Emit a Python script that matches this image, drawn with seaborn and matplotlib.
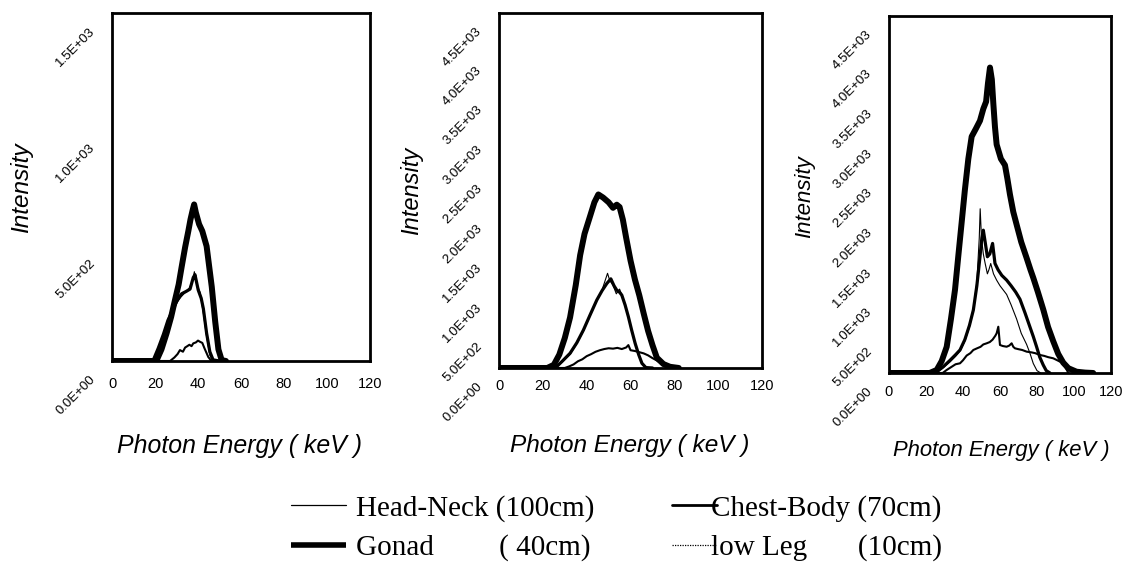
import matplotlib
matplotlib.use('Agg')
import matplotlib.pyplot as plt
from matplotlib.lines import Line2D
from matplotlib.ticker import FuncFormatter
from matplotlib.transforms import ScaledTranslation
import seaborn as sns

# ---------- panel 1 (low kV spectra) ----------
p1_head_e = [0, 18, 20, 23, 26, 29, 32, 34, 36, 37.5, 38.3, 39.5, 41, 42.5, 44, 45.5, 47, 50]
p1_head_i = [0, 0, 15, 90, 170, 235, 275, 295, 315, 345, 385, 330, 295, 205, 105, 25, 0, 0]
p1_chest_e = [0, 18.5, 19.2, 21.5, 23.9, 26, 28.5, 30.5, 32.4, 34.5, 36.3, 37.8, 38.6, 40.1, 41.5, 42.5, 44, 45.5, 47, 50]
p1_chest_i = [0, 0, 4, 55, 115, 175, 225, 265, 290, 300, 310, 360, 372, 306, 270, 225, 120, 40, 5, 0]
p1_gonad_e = [0, 20, 20.8, 23, 25.4, 27.5, 29.3, 31, 32.4, 34, 35.5, 36.5, 37.5, 38.2, 39, 40.5, 42, 44, 46.4, 48, 49.5, 51, 53]
p1_gonad_i = [0, 0, 4, 50, 120, 190, 263, 330, 406, 490, 560, 610, 650, 675, 640, 590, 560, 495, 320, 170, 50, 4, 0]
p1_leg_e = [0, 27, 29, 30.5, 31.6, 33, 34, 34.7, 36, 37, 37.8, 39, 40, 40.9, 42, 43, 44.8, 46, 48]
p1_leg_i = [0, 0, 15, 30, 47, 40, 58, 62, 70, 64, 76, 80, 88, 83, 78, 55, 17, 3, 0]

# ---------- panel 2 ----------
p2_head_e = [0, 24, 26.5, 29, 32.5, 35.5, 38.5, 41.5, 44.5, 47, 49.5, 50.5, 52, 53.5, 55, 56.5, 58, 59.5, 61, 62.5, 64, 65.5, 67, 70]
p2_head_i = [0, 0, 15, 80, 175, 310, 470, 660, 850, 990, 1200, 1110, 1050, 940, 1000, 880, 740, 600, 430, 280, 150, 50, 0, 0]
p2_chest_e = [0, 24, 26.3, 29, 32.4, 35.5, 38.5, 41.5, 44.6, 47, 49.2, 51, 52.5, 53.7, 55, 56, 57.5, 59, 60.5, 62.1, 63.7, 65.2, 67, 70]
p2_chest_i = [0, 0, 17, 90, 186, 320, 481, 670, 861, 980, 1072, 1130, 1040, 987, 960, 924, 800, 650, 480, 312, 170, 59, 5, 0]
p2_gonad_e = [0, 22, 25, 27.5, 30, 32.4, 35, 37, 39, 41.6, 43.5, 45.3, 47.5, 50, 52, 53.7, 55, 56.5, 58, 60, 62, 64, 66, 68, 70, 72, 75, 78, 82]
p2_gonad_i = [0, 0, 40, 170, 380, 640, 1050, 1430, 1700, 1930, 2100, 2200, 2160, 2100, 2030, 2070, 2040, 1880, 1650, 1360, 1120, 920, 690, 470, 290, 130, 50, 15, 0]
p2_leg_e = [0, 30, 32, 34, 36, 38, 40, 42, 44, 46, 48, 50, 52, 54, 56, 58, 59, 60, 62, 64, 66, 68, 70, 72, 75, 78, 81]
p2_leg_i = [0, 0, 20, 45, 85, 110, 150, 175, 205, 225, 240, 250, 245, 255, 240, 260, 290, 225, 215, 200, 185, 160, 125, 95, 40, 15, 0]

# ---------- panel 3 ----------
p3_head_e = [0, 25, 29, 33, 36, 38.5, 41, 43.5, 45.5, 47.5, 48.8, 49.3, 50, 51, 52, 53.2, 54, 55, 56.5, 58.2, 60, 61.8, 63.6, 66, 69, 71.5, 74.4, 76.2, 78, 80, 82]
p3_head_i = [0, 0, 60, 140, 210, 280, 400, 580, 780, 1150, 1700, 2070, 1700, 1500, 1380, 1250, 1300, 1380, 1250, 1170, 1100, 1045, 990, 860, 680, 500, 360, 250, 120, 30, 0]
p3_chest_e = [0, 25, 29.4, 33, 36, 38.4, 41, 43.5, 45.6, 47.5, 49.2, 50.2, 51, 52, 53.2, 54.5, 56, 57.3, 59, 61, 63.6, 66, 68.5, 70.8, 73.5, 76.2, 78, 79.8, 81.5, 83.4, 85, 87]
p3_chest_i = [0, 0, 80, 160, 230, 290, 420, 600, 793, 1100, 1465, 1700, 1800, 1650, 1465, 1500, 1633, 1381, 1300, 1230, 1171, 1100, 1020, 930, 760, 580, 460, 330, 200, 100, 30, 0]
p3_gonad_e = [0, 22, 25.8, 28.5, 31.2, 33.5, 35.7, 37.5, 39.3, 41, 42.9, 44.7, 47, 49.2, 51, 52.5, 53.5, 54.6, 55.6, 56.4, 57.3, 58.2, 60.5, 62.7, 64, 65.4, 67.2, 69, 71.5, 74.4, 76.5, 78, 80.5, 83.4, 86, 88.8, 91.5, 94.2, 97, 101.4, 106, 110.4]
p3_gonad_i = [0, 0, 38, 150, 330, 680, 1050, 1480, 1900, 2300, 2700, 2980, 3080, 3180, 3330, 3420, 3650, 3850, 3700, 3400, 3100, 2880, 2700, 2620, 2450, 2250, 2030, 1870, 1650, 1450, 1300, 1200, 1020, 800, 580, 400, 240, 130, 60, 16, 5, 0]
p3_leg_e = [0, 29, 31.2, 34, 36, 38.4, 40, 42, 44, 45.6, 47.5, 49.5, 51, 52.8, 54.5, 56, 57.5, 58.2, 59.1, 60, 61.5, 63.6, 65, 66.3, 67.2, 68.1, 70, 72, 74.4, 77, 79, 81.6, 84, 86, 88.8, 91, 94.2, 97]
p3_leg_i = [0, 0, 38, 80, 110, 122, 160, 220, 250, 290, 310, 330, 360, 374, 390, 420, 470, 500, 583, 353, 340, 331, 345, 374, 330, 311, 300, 290, 269, 260, 250, 227, 215, 200, 185, 160, 122, 0]

legend_labels = ['Head-Neck (100cm)', 'Chest-Body (70cm)', 'Gonad         ( 40cm)', 'low Leg       (10cm)']
y_ticks = [[0, 500, 1000, 1500], [0, 500, 1000, 1500, 2000, 2500, 3000, 3500, 4000, 4500],
           [0, 500, 1000, 1500, 2000, 2500, 3000, 3500, 4000, 4500]]
x_ticks = [0, 20, 40, 60, 80, 100, 120]

panels = [
    [(p1_head_e, p1_head_i), (p1_chest_e, p1_chest_i), (p1_gonad_e, p1_gonad_i), (p1_leg_e, p1_leg_i)],
    [(p2_head_e, p2_head_i), (p2_chest_e, p2_chest_i), (p2_gonad_e, p2_gonad_i), (p2_leg_e, p2_leg_i)],
    [(p3_head_e, p3_head_i), (p3_chest_e, p3_chest_i), (p3_gonad_e, p3_gonad_i), (p3_leg_e, p3_leg_i)],
]
widths = [0.8, 2.3, 4.3, 1.5]

sns.set_style('white')
plt.rcParams['font.family'] = ['Liberation Sans', 'DejaVu Sans']
plt.rcParams['text.color'] = 'black'
plt.rcParams['axes.labelcolor'] = 'black'
plt.rcParams['xtick.color'] = 'black'
plt.rcParams['ytick.color'] = 'black'

fig = plt.figure(figsize=(11.28, 5.63), dpi=100)
positions = [[0.0993, 0.3588, 0.2287, 0.618],
             [0.4424, 0.3464, 0.2332, 0.6305],
             [0.7881, 0.3375, 0.1968, 0.6341]]
xlabel_pos = [(0.496, -0.244), (0.498, -0.217), (0.505, -0.216)]
ylabel_pos = [(-0.349, 0.497), (-0.331, 0.499), (-0.378, 0.493)]
xlabel_size = [17.9, 17.6, 15.8]
ylabel_size = [17.6, 17.0, 16.0]
xpad = [11.5, 8.0, 8.6]

# the rotated value labels sit a little below their ticks, as in the source
down = ScaledTranslation(0, -0.12, fig.dpi_scale_trans)

for k, series in enumerate(panels):
    ax = fig.add_axes(positions[k])
    for (e, i), w in zip(series, widths):
        sns.lineplot(x=e, y=i, ax=ax, color='black', linewidth=w, estimator=None, sort=False)
    ax.set_xlim(0, 120)
    ax.set_ylim(0, y_ticks[k][-1])
    ax.set_xticks(x_ticks)
    ax.set_yticks(y_ticks[k])
    ax.yaxis.set_major_formatter(FuncFormatter(lambda v, p: f'{v:.1E}'))
    for s in ax.spines.values():
        s.set_linewidth(2)
        s.set_color('black')
    ax.tick_params(axis='x', direction='in', length=4, width=1, pad=xpad[k], labelsize=10.5, colors='black')
    ax.tick_params(axis='y', direction='in', length=4, width=1, pad=10.5, labelsize=9.5,
                   labelrotation=45, colors='black')
    for lbl in ax.get_yticklabels():
        lbl.set_ha('right')
        lbl.set_va('top')
        lbl.set_transform(lbl.get_transform() + down)
    ax.set_xlabel('Photon Energy ( keV )', fontsize=xlabel_size[k], style='italic', color='black')
    ax.set_ylabel('Intensity', fontsize=ylabel_size[k], style='italic', color='black')
    ax.xaxis.label.set_va('center')
    ax.yaxis.label.set_va('center')
    ax.xaxis.set_label_coords(*xlabel_pos[k])
    ax.yaxis.set_label_coords(*ylabel_pos[k])

h_head = Line2D([], [], color='black', lw=0.9)
h_chest = Line2D([], [], color='black', lw=2.0)
h_gonad = Line2D([], [], color='black', lw=4.0, solid_capstyle='butt')
h_leg = Line2D([], [], color='black', lw=0.9, linestyle=(0, (1, 1)))

leg_font = {'family': 'Liberation Serif', 'size': 21}
fig.legend(handles=[h_head, h_gonad], labels=[legend_labels[0], legend_labels[2]],
           loc='center left', bbox_to_anchor=(291 / 1128, 0.062), frameon=False,
           borderpad=0, borderaxespad=0, handlelength=1.9, handletextpad=0.32,
           labelspacing=0.42, prop=leg_font, labelcolor='black')
fig.legend(handles=[h_chest, h_leg], labels=[legend_labels[1], legend_labels[3]],
           loc='center left', bbox_to_anchor=(672 / 1128, 0.062), frameon=False,
           borderpad=0, borderaxespad=0, handlelength=1.55, handletextpad=-0.2,
           labelspacing=0.42, prop=leg_font, labelcolor='black')

fig.savefig('out.png', dpi=100)
